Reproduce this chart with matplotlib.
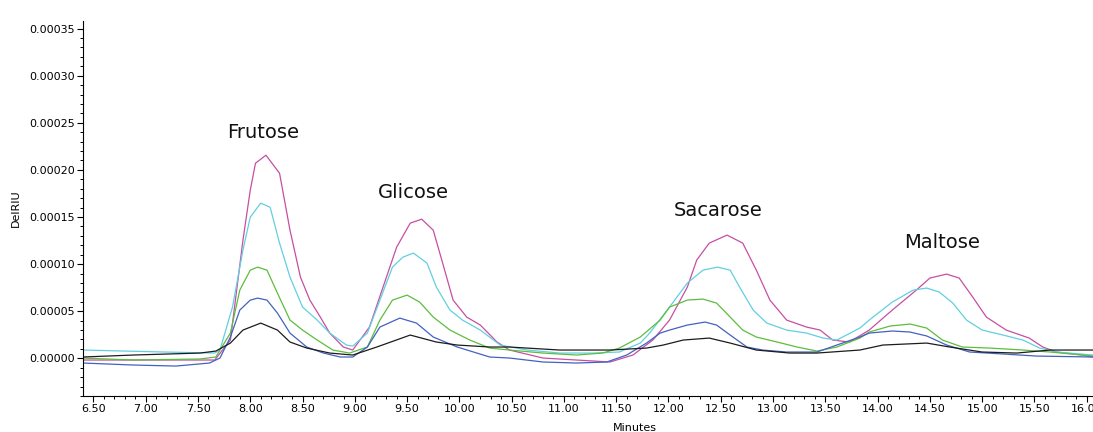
import numpy as np
import matplotlib
matplotlib.use("Agg")
import matplotlib.pyplot as plt
from matplotlib.ticker import MultipleLocator, FormatStrFormatter

# Chromatogram traces (time in minutes, signal in 1e-5 RIU)
t_magenta = [6.40, 7.18, 7.66, 7.81, 7.93, 8.00, 8.05, 8.15, 8.28, 8.38, 8.48, 8.57, 8.67, 8.76,
             8.89, 8.98, 9.14, 9.27, 9.40, 9.53, 9.64, 9.75, 9.84, 9.94, 10.07, 10.20, 10.36,
             10.48, 10.80, 11.12, 11.44, 11.66, 11.85, 12.01, 12.18, 12.27, 12.39, 12.56, 12.71,
             12.84, 12.97, 13.13, 13.32, 13.45, 13.57, 13.73, 13.92, 14.14, 14.37, 14.50, 14.66,
             14.78, 14.91, 15.04, 15.23, 15.45, 15.58, 15.71, 15.96, 16.06]
riu_magenta = [-0.18, -0.18, -0.18, 1.94, 12.54, 17.85, 20.71, 21.56, 19.65, 13.60, 8.62, 6.18,
               4.38, 2.68, 1.20, 0.88, 3.32, 7.56, 11.80, 14.35, 14.77, 13.60, 10.11, 6.18, 4.38,
               3.53, 1.73, 0.88, 0.03, -0.18, -0.39, 0.35, 1.94, 4.06, 7.56, 10.43, 12.23, 13.08,
               12.23, 9.36, 6.18, 4.06, 3.32, 3.00, 1.94, 1.73, 3.00, 5.12, 7.24, 8.52, 8.94,
               8.52, 6.50, 4.38, 3.00, 2.15, 1.20, 0.67, 0.35, 0.14]

t_cyan = [6.40, 7.18, 7.66, 7.71, 7.83, 7.93, 8.00, 8.10, 8.19, 8.28, 8.38, 8.50, 8.64, 8.76,
          8.92, 8.98, 9.12, 9.24, 9.36, 9.46, 9.56, 9.69, 9.78, 9.91, 10.03, 10.20, 10.39, 10.65,
          10.96, 11.28, 11.53, 11.73, 11.82, 12.01, 12.18, 12.33, 12.47, 12.59, 12.68, 12.81,
          12.94, 13.13, 13.32, 13.48, 13.61, 13.83, 13.92, 14.14, 14.34, 14.47, 14.59, 14.72,
          14.85, 15.00, 15.20, 15.39, 15.55, 15.71, 16.06]
riu_cyan = [0.88, 0.67, 0.56, 0.88, 5.44, 11.49, 14.98, 16.47, 16.04, 12.23, 8.62, 5.44, 4.06,
            2.68, 1.41, 1.30, 2.68, 6.18, 9.68, 10.74, 11.17, 10.11, 7.56, 5.12, 4.06, 3.00, 1.41,
            0.88, 0.56, 0.56, 0.67, 1.62, 2.68, 5.44, 7.99, 9.36, 9.68, 9.36, 7.56, 5.12, 3.74,
            3.00, 2.68, 2.15, 1.94, 3.21, 4.06, 5.97, 7.24, 7.46, 7.03, 5.86, 4.06, 3.00, 2.47,
            1.94, 1.09, 0.67, 0.35]

t_green = [6.40, 6.88, 7.52, 7.67, 7.81, 7.90, 8.00, 8.07, 8.16, 8.26, 8.38, 8.50, 8.64, 8.79,
           8.95, 9.12, 9.24, 9.36, 9.50, 9.62, 9.75, 9.91, 10.10, 10.29, 10.48, 10.80, 11.12,
           11.37, 11.53, 11.73, 11.92, 12.01, 12.18, 12.33, 12.46, 12.59, 12.71, 12.84, 13.04,
           13.23, 13.42, 13.61, 13.83, 13.92, 14.12, 14.31, 14.47, 14.62, 14.81, 15.07, 15.39,
           15.65, 16.06]
riu_green = [0.03, -0.18, -0.07, 0.14, 2.68, 7.24, 9.36, 9.68, 9.36, 6.92, 4.06, 3.00, 1.94, 0.88,
             0.56, 1.20, 4.06, 6.18, 6.71, 5.97, 4.38, 3.00, 1.94, 1.09, 0.88, 0.56, 0.35, 0.56,
             1.09, 2.26, 4.06, 5.44, 6.18, 6.29, 5.86, 4.38, 3.00, 2.26, 1.73, 1.20, 0.77, 1.20,
             2.15, 2.79, 3.43, 3.64, 3.21, 1.94, 1.20, 1.09, 0.88, 0.67, 0.24]

t_blue = [6.40, 6.88, 7.29, 7.61, 7.71, 7.81, 7.90, 8.00, 8.07, 8.16, 8.26, 8.38, 8.54, 8.70,
          8.86, 8.98, 9.12, 9.24, 9.43, 9.59, 9.75, 9.98, 10.29, 10.48, 10.80, 11.12, 11.41,
          11.60, 11.79, 11.92, 12.01, 12.18, 12.35, 12.46, 12.59, 12.75, 12.90, 13.13, 13.42,
          13.61, 13.83, 13.92, 14.14, 14.31, 14.47, 14.66, 14.88, 15.20, 15.52, 16.06]
riu_blue = [-0.50, -0.71, -0.82, -0.50, 0.03, 2.26, 5.12, 6.18, 6.39, 6.18, 4.80, 2.68, 1.20, 0.56,
            0.14, 0.14, 1.20, 3.32, 4.27, 3.74, 2.26, 1.20, 0.14, 0.03, -0.39, -0.50, -0.39, 0.35,
            1.62, 2.68, 3.00, 3.53, 3.85, 3.53, 2.47, 1.20, 0.88, 0.67, 0.67, 1.41, 2.26, 2.68,
            2.90, 2.79, 2.37, 1.41, 0.67, 0.46, 0.24, 0.14]

t_black = [6.40, 6.88, 7.52, 7.67, 7.81, 7.93, 8.10, 8.26, 8.38, 8.54, 8.76, 8.98, 9.21, 9.53,
           9.78, 9.98, 10.29, 10.48, 10.96, 11.44, 11.79, 11.95, 12.14, 12.39, 12.59, 12.84,
           13.16, 13.42, 13.83, 14.05, 14.47, 14.69, 15.00, 15.33, 15.65, 16.06]
riu_black = [0.14, 0.35, 0.56, 0.77, 1.62, 3.00, 3.74, 3.00, 1.73, 1.09, 0.56, 0.35, 1.20, 2.47,
             1.73, 1.41, 1.20, 1.20, 0.88, 0.88, 1.09, 1.41, 1.94, 2.15, 1.62, 0.88, 0.56, 0.56,
             0.88, 1.41, 1.62, 1.20, 0.67, 0.56, 0.88, 0.88]

peak_names = ['Frutose', 'Glicose', 'Sacarose', 'Maltose']
peak_label_t = [8.12, 9.56, 12.47, 14.62]
peak_label_riu = [24.0, 17.6, 15.7, 12.3]

SCALE = 1e-5


def plot_chromatogram():
    fig = plt.figure(figsize=(10.93, 4.32), dpi=100)
    ax = fig.add_axes([0.0762, 0.0833, 0.9238, 0.868])

    traces = [
        (t_magenta, riu_magenta, '#c64fa2'),
        (t_cyan, riu_cyan, '#62cfe0'),
        (t_green, riu_green, '#5dbd3e'),
        (t_blue, riu_blue, '#4262c0'),
        (t_black, riu_black, '#1c1c1c'),
    ]
    for t, riu, color in traces:
        ax.plot(t, np.array(riu) * SCALE, color=color, lw=0.9)

    # peak names
    for name, t, riu in zip(peak_names, peak_label_t, peak_label_riu):
        ax.text(t, riu * SCALE, name, ha='center', va='center',
                fontsize=14, family='DejaVu Sans', color='#111111')

    ax.set_xlim(6.403, 16.06)
    ax.set_ylim(-4.0 * SCALE, 35.8 * SCALE)

    ax.spines['top'].set_visible(False)
    ax.spines['right'].set_visible(False)

    ax.xaxis.set_major_locator(MultipleLocator(0.5))
    ax.xaxis.set_minor_locator(MultipleLocator(0.1))
    ax.xaxis.set_major_formatter(FormatStrFormatter('%.2f'))
    ax.yaxis.set_major_locator(MultipleLocator(5 * SCALE))
    ax.yaxis.set_minor_locator(MultipleLocator(1 * SCALE))
    ax.yaxis.set_major_formatter(FormatStrFormatter('%.5f'))

    ax.tick_params(which='major', length=4, width=0.8, labelsize=8, pad=2)
    ax.tick_params(which='minor', length=2, width=0.7)

    ax.set_ylabel('DelRIU', fontsize=8, labelpad=6)
    ax.set_xlabel('Minutes', fontsize=8)
    ax.xaxis.set_label_coords(0.546, -0.072)

    fig.savefig('out.png', dpi=100)


if __name__ == '__main__':
    plot_chromatogram()
